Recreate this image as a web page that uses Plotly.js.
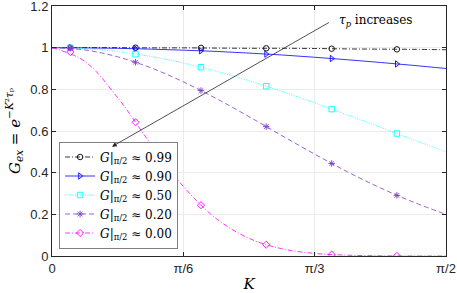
<!DOCTYPE html>
<html><head><meta charset="utf-8">
<script src="https://cdn.plot.ly/plotly-3.0.1.min.js"></script>
<style>html,body{margin:0;padding:0;background:#fff}#c{width:457px;height:293px}</style>
</head><body><div id="c"></div>
<script>
// K grid for the curves (radians)
const K = [0, 0.1309, 0.2618, 0.3927, 0.5236, 0.6545, 0.7854, 0.9163, 1.0472, 1.1781, 1.3090, 1.4399, 1.5708];
const G099 = [1, 1.000, 1.000, 0.999, 0.999, 0.998, 0.997, 0.997, 0.996, 0.994, 0.993, 0.992, 0.990];
const G090 = [1, 0.999, 0.997, 0.993, 0.988, 0.982, 0.974, 0.965, 0.954, 0.942, 0.929, 0.915, 0.900];
const G050 = [1, 0.995, 0.981, 0.958, 0.926, 0.887, 0.841, 0.790, 0.735, 0.677, 0.618, 0.558, 0.500];
const G020 = [1, 0.989, 0.956, 0.904, 0.836, 0.756, 0.669, 0.578, 0.489, 0.404, 0.327, 0.259, 0.200];
const G000 = [1, 0.934, 0.760, 0.540, 0.334, 0.180, 0.0848, 0.0348, 0.0125, 0.0039, 0.0011, 0.0003, 0.0001];
// marker positions
const Km = [0.073, 0.333, 0.594, 0.854, 1.115, 1.375];
const M099 = [1.000, 1.000, 0.999, 0.997, 0.995, 0.992];
const M090 = [1.000, 0.995, 0.985, 0.969, 0.948, 0.922];
const M050 = [0.999, 0.969, 0.906, 0.815, 0.705, 0.588];
const M020 = [0.997, 0.930, 0.794, 0.621, 0.444, 0.291];
const M000 = [0.979, 0.642, 0.244, 0.0541, 0.0069, 0.0005];
const labels = ['0.99', '0.90', '0.50', '0.20', '0.00'];
const xTickVals = [0, 0.5236, 1.0472, 1.5708];
const xTickText = ['0', 'π/6', 'π/3', 'π/2'];
const yTickVals = [0, 0.2, 0.4, 0.6, 0.8, 1, 1.2];
const yTickText = ['0', '0.2', '0.4', '0.6', '0.8', '1', '1.2'];

const curves = [G099, G090, G050, G020, G000];
const marks = [M099, M090, M050, M020, M000];
const colors = ['#000000', '#0000ff', '#00ffff', '#7b3fc8', '#ff00ff'];
const dashes = ['5px,2px,1px,2px', 'solid', '1px,1.5px', '5px,3px', '5px,2px,1px,2px'];
const symbols = ['circle-open', 'triangle-right-open', 'square-open', 'asterisk-open', 'diamond-open'];

const traces = [];
for (let i = 0; i < 5; i++) {
  traces.push({x: K, y: curves[i], mode: 'lines', line: {color: colors[i], dash: dashes[i], width: 0.8, shape: 'spline'}, showlegend: false, hoverinfo: 'skip'});
  traces.push({x: Km, y: marks[i], mode: 'markers', marker: {color: colors[i], symbol: symbols[i], size: 5.5, line: {color: colors[i], width: 0.9}}, showlegend: false});
  traces.push({x: [null], y: [null], mode: 'lines+markers', name: '<i>G</i>|<sub>π/2</sub> ≈ ' + labels[i],
    line: {color: colors[i], dash: dashes[i], width: 0.8}, marker: {color: colors[i], symbol: symbols[i], size: 5.5, line: {color: colors[i], width: 0.9}}});
}

const axisFont = {family: 'Liberation Sans, Arial, sans-serif', size: 13, color: '#262626'};
const layout = {
  width: 457, height: 293,
  margin: {l: 52, r: 11, t: 6, b: 37},
  paper_bgcolor: '#fff', plot_bgcolor: '#fff',
  showlegend: true,
  legend: {x: 0.018, y: 0.03, xanchor: 'left', yanchor: 'bottom', bgcolor: '#fff', bordercolor: '#808080', borderwidth: 1,
    font: {family: 'DejaVu Serif, serif', size: 12, color: '#000'}, tracegroupgap: 0, itemwidth: 30},
  xaxis: {range: [0, 1.5708], tickvals: xTickVals, ticktext: xTickText, ticks: 'inside', ticklen: 4, tickcolor: '#262626',
    showgrid: true, gridcolor: '#ebebeb', zeroline: false, showline: true, linecolor: '#262626', linewidth: 1, mirror: 'ticks',
    tickfont: axisFont, ticklabeloverflow: 'allow',
    title: {text: '<i>K</i>', font: {family: 'DejaVu Serif, serif', size: 15, color: '#000'}, standoff: 6}},
  yaxis: {range: [0, 1.2], tickvals: yTickVals, ticktext: yTickText,
    ticks: 'inside', ticklen: 4, tickcolor: '#262626',
    showgrid: true, gridcolor: '#ebebeb', zeroline: false, showline: true, linecolor: '#262626', linewidth: 1, mirror: 'ticks',
    tickfont: axisFont, ticklabeloverflow: 'allow',
    title: {text: '<i>G<sub>ex</sub></i> = <i>e</i><sup>−<i>K</i>²<i>τ</i>ₚ</sup>', font: {family: 'DejaVu Serif, serif', size: 15, color: '#000'}, standoff: 6}},
  annotations: [
    {x: 0.239, y: 0.525, ax: 1.110, ay: 1.125, xref: 'x', yref: 'y', axref: 'x', ayref: 'y', showarrow: true,
     arrowhead: 2, arrowsize: 1.2, arrowwidth: 0.8, arrowcolor: '#262626', text: ''},
    {x: 1.135, y: 1.13, xref: 'x', yref: 'y', xanchor: 'left', yanchor: 'middle', showarrow: false,
     text: '<i>τ<sub>p</sub></i> increases', font: {family: 'DejaVu Serif, serif', size: 12, color: '#000'}}
  ]
};
Plotly.newPlot('c', traces, layout, {staticPlot: true, displayModeBar: false});
</script></body></html>
